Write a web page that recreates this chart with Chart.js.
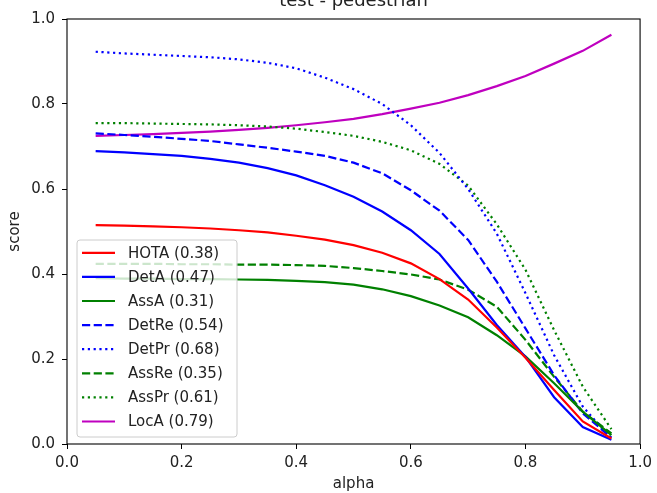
<!DOCTYPE html>
<html>
<head>
<meta charset="utf-8">
<script src="https://cdn.jsdelivr.net/npm/chart.js@4.4.1/dist/chart.umd.min.js"></script>
<style>
  html, body { margin: 0; padding: 0; background: #fff; }
  #wrap { position: relative; width: 657px; height: 493px; }
</style>
</head>
<body>
<div id="wrap"><canvas id="c" width="657" height="493"></canvas></div>
<script>
const chartTitle = "test - pedestrian";
const xTitle = "alpha";
const yTitle = "score";
const alphas = [0.05,0.10,0.15,0.20,0.25,0.30,0.35,0.40,0.45,0.50,0.55,0.60,0.65,0.70,0.75,0.80,0.85,0.90,0.95];
const xTicks = [0.0,0.2,0.4,0.6,0.8,1.0];
const yTicks = [0.0,0.2,0.4,0.6,0.8,1.0];

const seriesNames = ["HOTA (0.38)","DetA (0.47)","AssA (0.31)","DetRe (0.54)","DetPr (0.68)","AssRe (0.35)","AssPr (0.61)","LocA (0.79)"];
const HOTA  = [0.515,0.514,0.512,0.510,0.507,0.503,0.498,0.490,0.481,0.468,0.450,0.425,0.388,0.340,0.274,0.203,0.127,0.053,0.013];
const DetA  = [0.689,0.686,0.682,0.678,0.671,0.662,0.649,0.632,0.609,0.582,0.547,0.503,0.447,0.366,0.280,0.205,0.110,0.040,0.010];
const AssA  = [0.390,0.389,0.389,0.388,0.388,0.387,0.386,0.384,0.381,0.375,0.364,0.348,0.326,0.298,0.256,0.206,0.143,0.076,0.021];
const DetRe = [0.731,0.727,0.723,0.718,0.713,0.705,0.697,0.688,0.678,0.662,0.637,0.597,0.549,0.480,0.382,0.272,0.162,0.072,0.015];
const DetPr = [0.923,0.919,0.916,0.913,0.910,0.905,0.897,0.884,0.862,0.835,0.800,0.750,0.685,0.600,0.495,0.355,0.209,0.088,0.012];
const AssRe = [0.424,0.424,0.424,0.423,0.423,0.422,0.422,0.421,0.419,0.414,0.407,0.399,0.387,0.363,0.323,0.245,0.158,0.076,0.025];
const AssPr = [0.755,0.755,0.754,0.753,0.752,0.750,0.747,0.742,0.734,0.725,0.711,0.691,0.659,0.608,0.517,0.410,0.268,0.135,0.035];
const LocA  = [0.725,0.727,0.729,0.732,0.735,0.739,0.744,0.750,0.757,0.765,0.776,0.789,0.803,0.821,0.842,0.866,0.895,0.925,0.963];

const seriesValues = [HOTA, DetA, AssA, DetRe, DetPr, AssRe, AssPr, LocA];
const seriesColors = ["#ff0000","#0000ff","#008000","#0000ff","#0000ff","#008000","#008000","#bf00bf"];
const LW = 2.2;
const seriesDash = [[],[],[],[8.2,3.5],[2.2,3.6],[8.2,3.5],[2.2,3.6],[]];

const FONT = "'DejaVu Sans', sans-serif";
const TEXT = "#222";

const datasets = seriesNames.map((name, i) => ({
  label: name,
  data: alphas.map((a, j) => ({x: a, y: seriesValues[i][j]})),
  borderColor: seriesColors[i],
  backgroundColor: seriesColors[i],
  borderWidth: LW,
  borderDash: seriesDash[i],
  borderCapStyle: 'butt',
  pointRadius: 0,
  tension: 0,
  fill: false
}));

const framePlugin = {
  id: 'frame',
  afterDatasetsDraw(chart) {
    const ctx = chart.ctx, ca = chart.chartArea;
    ctx.save();
    ctx.strokeStyle = '#000';
    ctx.lineWidth = 1.1;
    ctx.strokeRect(ca.left, ca.top, ca.right - ca.left, ca.bottom - ca.top);
    const fs = 15;
    const bx = ca.left + 10, bw = 160, bh = 197;
    const by = ca.bottom - 7 - bh;
    const r = 3;
    ctx.beginPath();
    ctx.moveTo(bx + r, by);
    ctx.lineTo(bx + bw - r, by);
    ctx.arcTo(bx + bw, by, bx + bw, by + r, r);
    ctx.lineTo(bx + bw, by + bh - r);
    ctx.arcTo(bx + bw, by + bh, bx + bw - r, by + bh, r);
    ctx.lineTo(bx + r, by + bh);
    ctx.arcTo(bx, by + bh, bx, by + bh - r, r);
    ctx.lineTo(bx, by + r);
    ctx.arcTo(bx, by, bx + r, by, r);
    ctx.closePath();
    ctx.fillStyle = 'rgba(255,255,255,0.8)';
    ctx.fill();
    ctx.strokeStyle = '#cccccc';
    ctx.lineWidth = 1;
    ctx.stroke();
    ctx.font = fs + "px " + FONT;
    ctx.textBaseline = 'middle';
    ctx.textAlign = 'left';
    chart.data.datasets.forEach((ds, i) => {
      const cy = by + 12.8 + i * 24.1;
      ctx.beginPath();
      ctx.setLineDash(ds.borderDash || []);
      ctx.lineCap = 'butt';
      ctx.strokeStyle = ds.borderColor;
      ctx.lineWidth = ds.borderWidth;
      ctx.moveTo(bx + 5, cy);
      ctx.lineTo(bx + 38, cy);
      ctx.stroke();
      ctx.setLineDash([]);
      ctx.fillStyle = TEXT;
      ctx.fillText(ds.label, bx + 51, cy + 1);
    });
    ctx.restore();
  },
  afterDraw(chart) {
    const ctx = chart.ctx, ca = chart.chartArea;
    ctx.save();
    ctx.font = "18px " + FONT;
    ctx.fillStyle = TEXT;
    ctx.textAlign = 'center';
    ctx.textBaseline = 'alphabetic';
    ctx.fillText(chartTitle, (ca.left + ca.right) / 2, ca.top - 13);
    ctx.restore();
  }
};

new Chart(document.getElementById('c'), {
  type: 'line',
  data: { datasets },
  plugins: [framePlugin],
  options: {
    responsive: false,
    animation: false,
    devicePixelRatio: 1,
    layout: { padding: { top: 19, right: 12, left: 0, bottom: 0 } },
    plugins: { legend: { display: false }, title: { display: false }, tooltip: { enabled: false } },
    scales: {
      x: {
        type: 'linear', min: 0, max: 1,
        afterBuildTicks: (s) => { s.ticks = xTicks.map(v => ({value: v})); },
        afterFit: (s) => { s.height = 49; },
        border: { display: false },
        grid: { display: true, drawOnChartArea: false, drawTicks: true, tickLength: 5, tickColor: '#000', tickWidth: 1 },
        ticks: { color: TEXT, font: { family: FONT, size: 15 }, padding: 5, maxRotation: 0,
                 callback: (v) => Number(v).toFixed(1) },
        title: { display: true, text: xTitle, color: TEXT, font: { family: FONT, size: 15 }, padding: { top: 0, bottom: 0 } }
      },
      y: {
        type: 'linear', min: 0, max: 1,
        afterBuildTicks: (s) => { s.ticks = yTicks.map(v => ({value: v})); },
        afterFit: (s) => { s.width = 67; },
        border: { display: false },
        grid: { display: true, drawOnChartArea: false, drawTicks: true, tickLength: 5, tickColor: '#000', tickWidth: 1 },
        ticks: { color: TEXT, font: { family: FONT, size: 15 }, padding: 7,
                 callback: (v) => Number(v).toFixed(1) },
        title: { display: true, text: yTitle, color: TEXT, font: { family: FONT, size: 15 }, padding: { top: 6, bottom: 0 } }
      }
    }
  }
});
</script>
</body>
</html>
